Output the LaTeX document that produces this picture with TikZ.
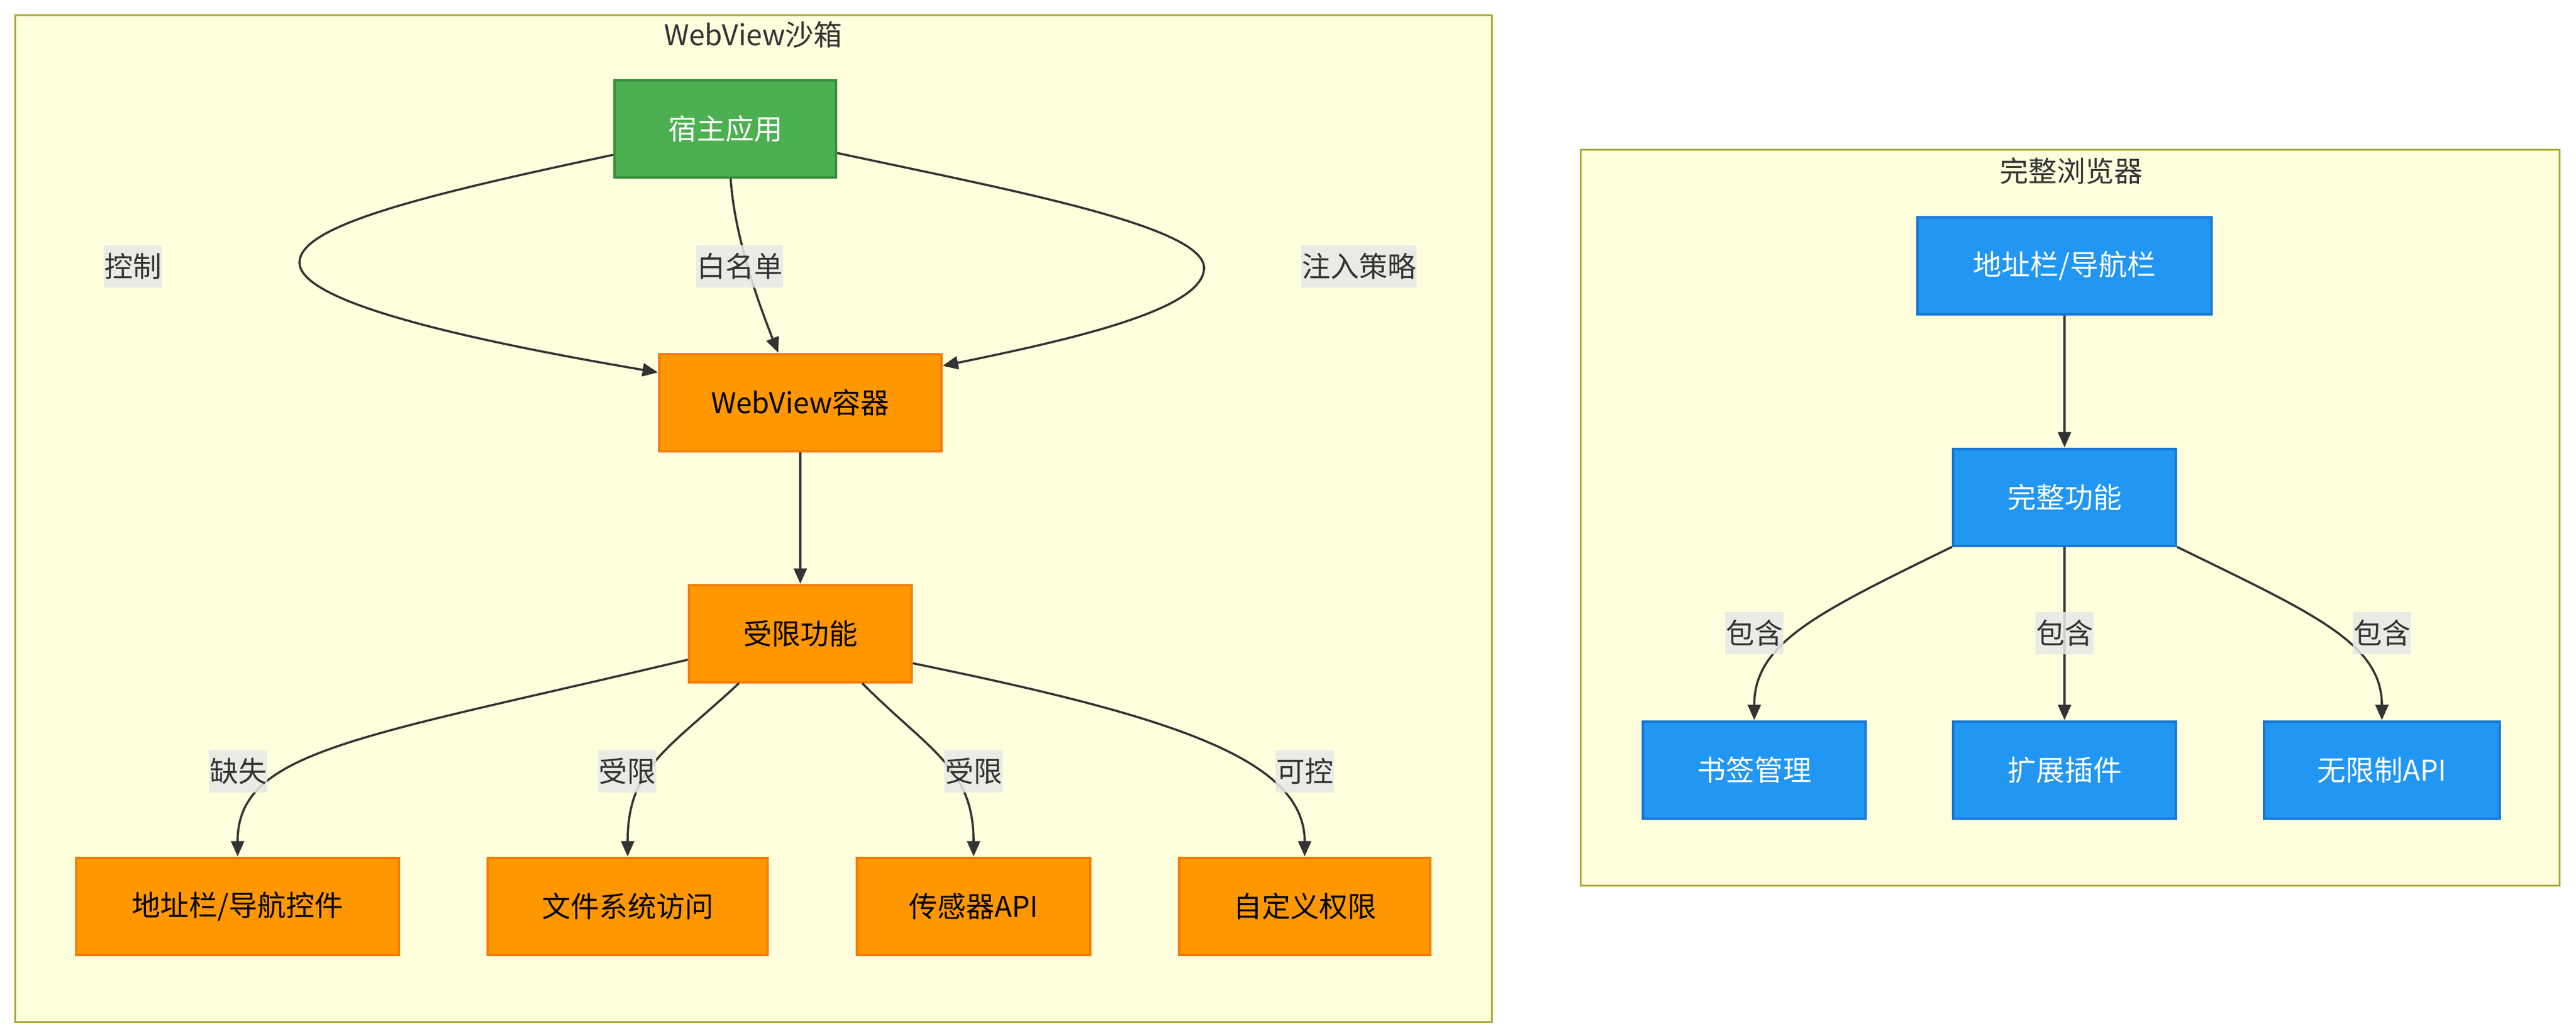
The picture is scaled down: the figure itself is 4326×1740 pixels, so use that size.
\documentclass[tikz,border=0pt]{standalone}
\usepackage{fontspec}
\setmainfont{Noto Sans CJK SC}
\usetikzlibrary{arrows.meta,calc}
\definecolor{clfill}{HTML}{FFFFDE}
\definecolor{clline}{HTML}{AAAA33}
\definecolor{gfill}{HTML}{4CAF50}
\definecolor{gline}{HTML}{388E3C}
\definecolor{ofill}{HTML}{FF9800}
\definecolor{oline}{HTML}{F57C00}
\definecolor{bfill}{HTML}{2196F3}
\definecolor{bline}{HTML}{1976D2}
\definecolor{edgec}{HTML}{333333}
\definecolor{lblbg}{HTML}{E8E8E8}
\begin{document}
\begin{tikzpicture}[x=1pt,y=-1pt,
  box/.style={draw, line width=4pt, minimum height=163pt, inner sep=0pt, font=\fontsize{48}{57}\selectfont},
  gbox/.style={box, fill=gfill, draw=gline, text=white},
  obox/.style={box, fill=ofill, draw=oline, text=black},
  bbox/.style={box, fill=bfill, draw=bline, text=white},
  cluster/.style={fill=clfill, draw=clline, line width=3pt},
  ctitle/.style={text=edgec, font=\fontsize{48}{57}\selectfont},
  elabel/.style={fill=lblbg, fill opacity=0.85, text opacity=1, text=edgec, font=\fontsize{48}{57}\selectfont, inner xsep=1pt, inner ysep=0pt, minimum height=71pt},
  arr/.style={draw=edgec, line width=3.6pt, -{Triangle[length=26pt,width=22pt]}}
]
\useasboundingbox (0,0) rectangle (4326,1740);
\fill[white] (0,0) rectangle (4326,1740);
% clusters
\draw[cluster] (25,25) rectangle (2505,1716);
\node[ctitle] (t1) at (1265,58) {WebView沙箱};
\draw[cluster] (2654,251) rectangle (4298,1487);
\node[ctitle] (t2) at (3478,287) {完整浏览器};
% left nodes
\node[gbox, minimum width=372pt] (host) at (1218,216) {宿主应用};
\node[obox, minimum width=474pt] (wv) at (1344,676) {WebView容器};
\node[obox, minimum width=374pt] (lim) at (1344,1064) {受限功能};
\node[obox, minimum width=542pt] (n1) at (399,1522) {地址栏/导航控件};
\node[obox, minimum width=470pt] (n2) at (1054,1522) {文件系统访问};
\node[obox, minimum width=392pt] (n3) at (1635,1522) {传感器API};
\node[obox, minimum width=422pt] (n4) at (2191,1522) {自定义权限};
% right nodes
\node[bbox, minimum width=494pt] (addr) at (3467,446) {地址栏/导航栏};
\node[bbox, minimum width=374pt] (full) at (3467,835) {完整功能};
\node[bbox, minimum width=374pt] (bm) at (2946,1293) {书签管理};
\node[bbox, minimum width=374pt] (ext) at (3467,1293) {扩展插件};
\node[bbox, minimum width=396pt] (api) at (4000,1293) {无限制API};
% left edges
\draw[arr] ($(host.west)+(0,44)$) .. controls (700,330) and (503,380) .. (503,441)
  .. controls (503,500) and (720,560) .. ($(wv.north west)+(0,33)$);
\draw[arr] ($(host.south)+(9,0)$) .. controls (1232,380) and (1262,480) .. ($(wv.north)+(-37,0)$);
\draw[arr] ($(host.east)+(0,41)$) .. controls (1700,320) and (2022,380) .. (2022,450)
  .. controls (2022,520) and (1800,570) .. ($(wv.north east)+(0,22)$);
\draw[arr] (wv.south) -- (lim.north);
\draw[arr] ($(lim.west)+(0,44)$) .. controls (600,1240) and (399,1260) .. (n1.north);
\draw[arr] ($(lim.south)+(-103,0)$) .. controls (1120,1260) and (1054,1290) .. (n2.north);
\draw[arr] ($(lim.south)+(104,0)$) .. controls (1560,1260) and (1635,1290) .. (n3.north);
\draw[arr] ($(lim.east)+(0,50)$) .. controls (1950,1200) and (2191,1270) .. (n4.north);
% right edges
\draw[arr] (addr.south) -- (full.north);
\draw[arr] (full.south west) .. controls (3050,1030) and (2946,1080) .. (bm.north);
\draw[arr] (full.south) -- (ext.north);
\draw[arr] (full.south east) .. controls (3884,1030) and (4000,1080) .. (api.north);
% labels
\node[elabel] (l1) at (223,447) {控制};
\node[elabel] (l2) at (1242,447) {白名单};
\node[elabel] (l3) at (2282,447) {注入策略};
\node[elabel] (l4) at (400,1295) {缺失};
\node[elabel] (l5) at (1053,1295) {受限};
\node[elabel] (l6) at (1635,1295) {受限};
\node[elabel] (l7) at (2191,1295) {可控};
\node[elabel] (l8) at (2946,1063) {包含};
\node[elabel] (l9) at (3467,1063) {包含};
\node[elabel] (l10) at (4000,1063) {包含};
\end{tikzpicture}
\end{document}
